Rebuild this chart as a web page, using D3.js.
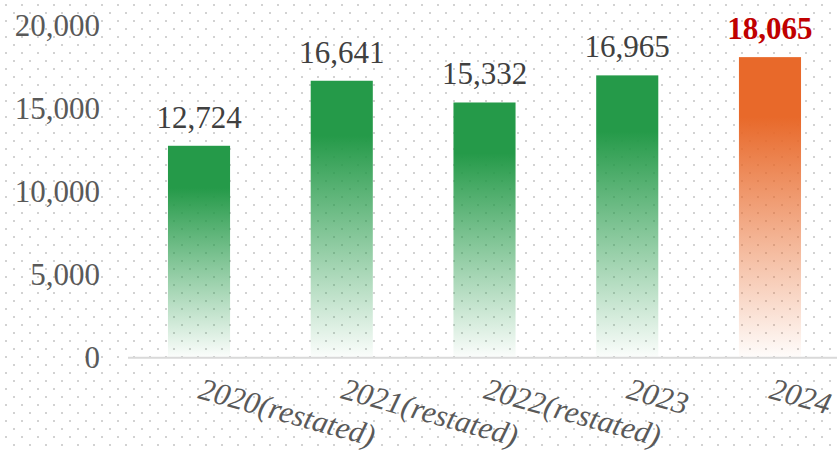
<!DOCTYPE html>
<html>
<head>
<meta charset="utf-8">
<script src="https://cdn.jsdelivr.net/npm/d3@7"></script>
<style>
  body { margin: 0; background: #fff; }
  svg { display: block; font-family: "Liberation Serif", "Times New Roman", serif; }
</style>
</head>
<body>
<svg width="837" height="451"></svg>
<script>
const categories = ["2020(restated)", "2021(restated)", "2022(restated)", "2023", "2024"];
const values = [12724, 16641, 15332, 16965, 18065];
const yTicks = [0, 5000, 10000, 15000, 20000];

const svg = d3.select("svg"),
  width = 837,
  height = 451;

// dotted background
const defs = svg.append("defs");
const pat = defs.append("pattern")
  .attr("id", "dots")
  .attr("patternUnits", "userSpaceOnUse")
  .attr("width", 16)
  .attr("height", 16);
pat.append("rect").attr("x", 5).attr("y", 4).attr("width", 2).attr("height", 2).attr("fill", "#d2d2d2");
pat.append("rect").attr("x", 13).attr("y", 12).attr("width", 2).attr("height", 2).attr("fill", "#d2d2d2");
svg.append("rect").attr("width", width).attr("height", height).attr("fill", "url(#dots)");

// gradients
function grad(id, color) {
  const g = defs.append("linearGradient")
    .attr("id", id)
    .attr("x1", 0).attr("y1", 0).attr("x2", 0).attr("y2", 1);
  g.append("stop").attr("offset", 0).attr("stop-color", color);
  g.append("stop").attr("offset", 0.2).attr("stop-color", color);
  g.append("stop").attr("offset", 1).attr("stop-color", color).attr("stop-opacity", 0.02);
}
grad("g-green", "#259a49");
grad("g-orange", "#e8692a");

const x = d3.scaleBand()
  .domain(categories)
  .range([128, 841])
  .paddingInner(0.565)
  .paddingOuter(0.28);

const y = d3.scaleLinear()
  .domain([0, 20000])
  .range([357, 25]);

// y labels
svg.append("g")
  .selectAll("text")
  .data(yTicks)
  .join("text")
  .attr("x", 100)
  .attr("y", (d) => y(d))
  .attr("dy", "0.35em")
  .attr("text-anchor", "end")
  .attr("fill", "#595959")
  .style("font-size", "31px")
  .text((d) => d3.format(",")(d));

// bars
svg.append("g")
  .selectAll("rect")
  .data(values)
  .join("rect")
  .attr("x", (d, i) => x(categories[i]))
  .attr("y", (d) => y(d))
  .attr("width", x.bandwidth())
  .attr("height", (d) => y(0) - y(d))
  .attr("fill", (d, i) => (i === 4 ? "url(#g-orange)" : "url(#g-green)"));

// baseline
svg.append("line")
  .attr("x1", 128).attr("x2", width)
  .attr("y1", y(0) + 0.7).attr("y2", y(0) + 0.7)
  .attr("stroke", "#d9d9d9")
  .attr("stroke-width", 2);

// value labels
svg.append("g")
  .selectAll("text")
  .data(values)
  .join("text")
  .attr("x", (d, i) => x(categories[i]) + x.bandwidth() / 2)
  .attr("y", (d) => y(d) - 18)
  .attr("text-anchor", "middle")
  .attr("fill", (d, i) => (i === 4 ? "#c00000" : "#404040"))
  .attr("font-weight", (d, i) => (i === 4 ? "bold" : "normal"))
  .style("font-size", "31px")
  .text((d) => d3.format(",")(d));

// x labels, slanted
svg.append("g")
  .selectAll("text")
  .data(categories)
  .join("text")
  .attr("transform", (d) => `translate(${x(d) + x.bandwidth() / 2 - 2},398) rotate(15.5)`)
  .attr("text-anchor", "start")
  .attr("fill", "#595959")
  .style("font-style", "italic")
  .style("font-size", "31px")
  .text((d) => d);
</script>
</body>
</html>
